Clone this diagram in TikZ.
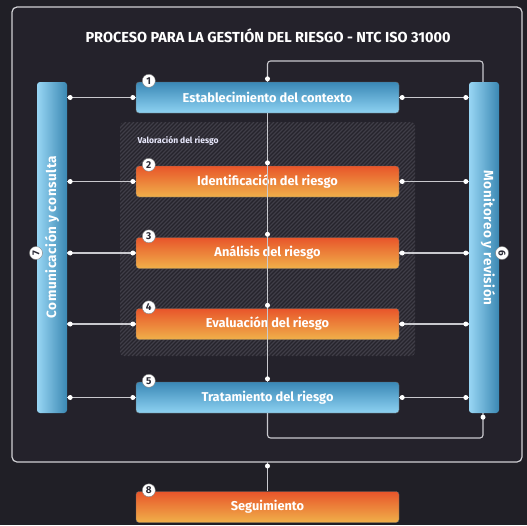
\documentclass[tikz,border=0pt]{standalone}
\usepackage{fontspec}
\setmainfont{Fira Sans}
\newfontfamily\barfont[LetterSpace=4]{Fira Sans}
\usetikzlibrary{calc}
\definecolor{bgdark}{HTML}{201F26}
\definecolor{framefill}{HTML}{24222B}
\definecolor{wire}{HTML}{C9C9CE}
\definecolor{hatchbg}{HTML}{26242C}
\definecolor{hatchln}{HTML}{403E48}
\definecolor{bluetop}{HTML}{3A88B6}
\definecolor{bluebot}{HTML}{8ED2F2}
\definecolor{orgtop}{HTML}{E8552A}
\definecolor{orgbot}{HTML}{F0B04A}
\definecolor{barlight}{HTML}{98D6F4}
\definecolor{bardark}{HTML}{3B88B3}
\definecolor{badgetxt}{HTML}{2A2A35}
\tikzset{
  stepbox/.style={rounded corners=3pt, minimum width=263pt, minimum height=31pt,
    inner sep=0pt, draw=black!60, line width=0.4pt, text=white,
    font=\fontsize{12.8}{14}\selectfont\bfseries},
  bluebox/.style={stepbox, top color=bluetop, bottom color=bluebot},
  orangebox/.style={stepbox, top color=orgtop, bottom color=orgbot},
  sidebar/.style={rounded corners=3pt, minimum width=30pt, minimum height=331pt,
    inner sep=0pt, left color=barlight, right color=bardark, draw=none},
  bartext/.style={text=white, font=\barfont\fontsize{13.5}{15}\selectfont\bfseries},
  badge/.style={circle, fill=white, draw=black!50, line width=0.4pt, inner sep=0pt,
    minimum size=13pt, text=badgetxt, font=\fontsize{10}{10}\selectfont\bfseries},
  wireline/.style={draw=wire, line width=1.1pt, rounded corners=3pt},
  dot/.style={circle, fill=white, inner sep=0pt, minimum size=5pt},
}
\begin{document}
\begin{tikzpicture}[x=1pt,y=-1pt]
% canvas
\fill[bgdark] (0,0) rectangle (527,525);
\useasboundingbox (0,0) rectangle (527,525);
% outer frame
\draw[draw=wire!85, fill=framefill, line width=1.2pt, rounded corners=5pt] (12,7) rectangle (522,462);
% title
\node[text=white, font=\fontsize{14.5}{16}\selectfont\bfseries] (title) at (268,36)
  {PROCESO PARA LA GESTIÓN DEL RIESGO - NTC ISO 31000};

% hatched "valoración" zone
\begin{scope}
  \path[fill=hatchbg, rounded corners=4pt] (120,122) rectangle (415,356);
  \clip[rounded corners=4pt] (120,122) rectangle (415,356);
  \foreach \k in {-240,-236,...,300}
    \draw[hatchln, line width=1.2pt] (120+\k,356) -- (120+\k+234,122);
\end{scope}
\node[anchor=west, text=white!92!blue, font=\fontsize{8.5}{10}\selectfont\bfseries] (zone) at (134,141)
  {Valoración del riesgo};

% side bars
\node[sidebar] (lbar) at (52,247.5) {};
\node[sidebar] (rbar) at (484,247.5) {};
\node[bartext, rotate=90] (ltext) at (52,237) {Comunicación y consulta};
\node[bartext, rotate=-90] (rtext) at (488,238) {Monitoreo y revisión};
\node[badge, rotate=90] (b7) at (36,253) {7};
\node[badge, rotate=-90] (b6) at (502,253) {6};

% process steps
\node[bluebox]   (s1) at (267.5,97.5)  {Establecimiento del contexto};
\node[orangebox] (s2) at (267.5,181.5) {Identificación del riesgo};
\node[orangebox] (s3) at (267.5,253)   {Análisis del riesgo};
\node[orangebox] (s4) at (267.5,324)   {Evaluación del riesgo};
\node[bluebox]   (s5) at (267.5,397.5) {Tratamiento del riesgo};
\node[orangebox] (s8) at (267.5,507)   {Seguimiento};

% spine between the steps
\draw[wireline] (s1.south) -- (s5.north);
\foreach \s in {s2,s3,s4,s5}
  \node[dot] at ($(\s.north)+(0,-3)$) {};

% links to the side bars
\foreach \s in {s1,s2,s3,s4,s5}{
  \draw[wireline] (lbar.east |- \s.west) -- (\s.west);
  \draw[wireline] (\s.east) -- (rbar.west |- \s.east);
  \node[dot] at ($(lbar.east |- \s.west)+(3,0)$) {};
  \node[dot] at ($(\s.west)+(-3,0)$) {};
  \node[dot] at ($(\s.east)+(3,0)$) {};
  \node[dot] at ($(rbar.west |- \s.east)+(-3,0)$) {};
}

% upper loop from context to monitoring
\coordinate (tl) at (267.5,61);
\coordinate (tr) at (483,61);
\draw[wireline] (s1.north) -- (tl) -- (tr) -- (tr |- rbar.north);
\node[dot] at ($(s1.north)+(0,-3)$) {};

% lower loop from treatment to monitoring
\coordinate (bl) at (267.5,438);
\coordinate (br) at (483,438);
\draw[wireline] (s5.south) -- (bl) -- (br) -- (br |- rbar.south);
\node[dot] at ($(br |- rbar.south)+(0,4)$) {};

% follow-up hangs from the frame
\coordinate (fb) at (267.5,462);
\draw[wireline] (fb) -- (s8.north);
\node[dot] at ($(fb)+(0,4)$) {};

% step badges
\foreach \s/\n in {s1/1,s2/2,s3/3,s4/4,s5/5,s8/8}
  \node[badge] at ($(\s.north west)+(13,-1)$) {\n};
\end{tikzpicture}
\end{document}
